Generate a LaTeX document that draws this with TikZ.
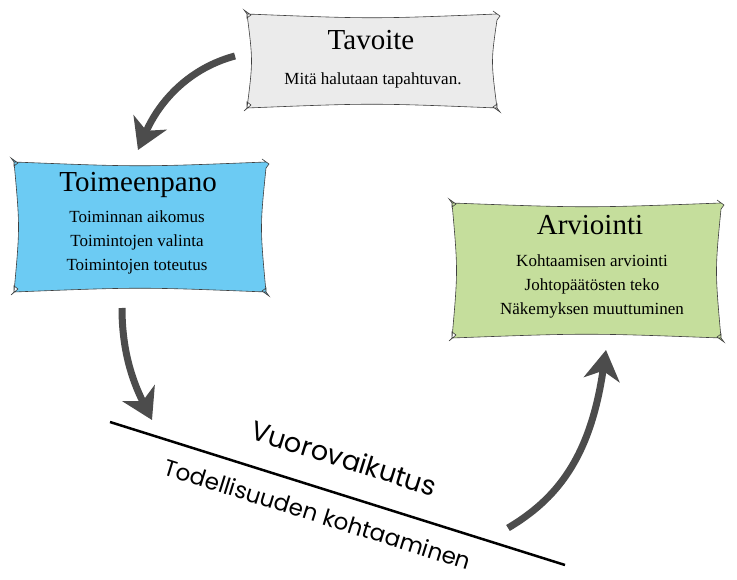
\documentclass[tikz,border=0pt]{standalone}
\usepackage{fontspec}
\setmainfont{Liberation Serif}
\newfontfamily\gothic{Poppins}
\usetikzlibrary{arrows.meta}
\definecolor{skyb}{HTML}{6CCBF3}
\definecolor{lgreen}{HTML}{C5DE9C}
\definecolor{lgray}{HTML}{EBEBEB}
\tikzset{
  pil/.style={draw=black!75,line width=0.6pt},
  arr/.style={draw=black!70,line width=7pt,-{Stealth[length=30pt,width=36pt,inset=9pt]}},
  ttl/.style={font=\fontsize{29}{32}\selectfont},
  bdy/.style={font=\fontsize{17}{24}\selectfont,align=center},
}
\newcommand\pillow[5]{%
  \filldraw[pil,fill=#5] (#1,#2) .. controls ({(#1+#3)/2},{#2+5}) .. (#3,#2)
   -- ++(-4,-3) -- ++(7,5) -- ++(-3,4)
   .. controls ({#3-6},{(#2+#4)/2}) .. ({#3},{#4})
   -- ++(3,4) -- ++(-7,-5) -- ++(4,-3) -- ({#3},{#4})
   .. controls ({(#1+#3)/2},{#4-5}) .. ({#1},{#4})
   -- ++(-3,3) -- ++(7,-6) -- ++(-4,-3) -- ({#1},{#4})
   .. controls ({#1+6},{(#2+#4)/2}) .. (#1,#2)
   -- ++(-3,-4) -- ++(7,5) -- ++(-4,3) -- cycle;}
\begin{document}
\begin{tikzpicture}[x=1pt,y=-1pt]
\useasboundingbox[fill=white] (0,0) rectangle (737,580);
\pillow{247}{14}{497}{108}{lgray}
\pillow{14}{162}{266}{292}{skyb}
\pillow{452}{203}{721}{338}{lgreen}
\node[ttl] (t1) at (371,40) {Tavoite};
\node[bdy] (b1) at (373,80) {Mitä halutaan tapahtuvan.};
\node[ttl] (t2) at (138,185) {Toimeenpano};
\node[bdy] (b2) at (137,242) {Toiminnan aikomus\\Toimintojen valinta\\Toimintojen toteutus};
\node[ttl] (t3) at (590,225) {Arviointi};
\node[bdy] (b3) at (592,286) {Kohtaamisen arviointi\\Johtopäätösten teko\\Näkemyksen muuttuminen};
\coordinate (l1) at (110,422);
\coordinate (l2) at (565,565);
\draw[line width=2.5pt] (l1) -- (l2);
\node[font=\gothic\fontsize{27}{30}\selectfont,rotate=-17.4] (v) at (344,458) {Vuorovaikutus};
\node[font=\gothic\fontsize{23}{26}\selectfont,rotate=-17.4] (k) at (318,514) {Todellisuuden kohtaaminen};
\coordinate (a1s) at (235,56);
\coordinate (a1e) at (138,150);
\draw[arr] (a1s) .. controls (190,68) and (160,100) .. (a1e);
\coordinate (a2s) at (122,308);
\coordinate (a2e) at (152,420);
\draw[arr] (a2s) .. controls (122,350) and (132,380) .. (a2e);
\coordinate (a3s) at (508,528);
\coordinate (a3e) at (606,350);
\draw[arr] (a3s) .. controls (555,500) and (590,460) .. (a3e);
\end{tikzpicture}
\end{document}
